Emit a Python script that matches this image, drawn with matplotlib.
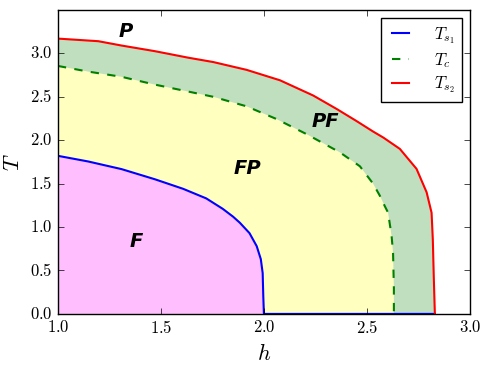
import numpy as np
import matplotlib
matplotlib.use('Agg')
import matplotlib.pyplot as plt

plt.style.use('classic')
plt.rcParams['font.family'] = 'serif'
plt.rcParams['font.serif'] = ['cmr10']
plt.rcParams['mathtext.fontset'] = 'cm'
plt.rcParams['axes.formatter.use_mathtext'] = True

# boundaries
h_s1 = [1.0, 1.147, 1.309, 1.471, 1.608, 1.72, 1.80, 1.85, 1.883, 1.93, 1.965, 1.985, 1.994,
        1.997, 2.0, 2.83]
T_s1 = [1.82, 1.755, 1.667, 1.55, 1.44, 1.33, 1.21, 1.12, 1.05, 0.93, 0.78, 0.63, 0.47,
        0.2, 0.0, 0.0]

h_c = [1.0, 1.147, 1.309, 1.471, 1.633, 1.754, 1.916, 2.06, 2.207, 2.369, 2.466, 2.53, 2.563,
       2.587, 2.603, 2.62, 2.627, 2.631, 2.631]
T_c = [2.855, 2.79, 2.73, 2.64, 2.56, 2.50, 2.39, 2.245, 2.07, 1.86, 1.70, 1.50, 1.36,
       1.24, 1.165, 0.895, 0.7, 0.3, 0.0]

h_s2 = [1.0, 1.196, 1.309, 1.471, 1.633, 1.754, 1.916, 2.078, 2.239, 2.353, 2.45, 2.53, 2.58,
        2.66, 2.741, 2.79, 2.814, 2.82, 2.825, 2.83]
T_s2 = [3.17, 3.14, 3.09, 3.025, 2.95, 2.90, 2.81, 2.69, 2.515, 2.36, 2.22, 2.10, 2.03,
        1.90, 1.67, 1.40, 1.165, 0.86, 0.4, 0.0]

labels = ['P', 'PF', 'FP', 'F']
label_h = [1.33, 2.30, 1.92, 1.38]
label_T = [3.25, 2.22, 1.67, 0.83]

fig = plt.figure(figsize=(4.91, 3.68), dpi=100)
ax = fig.add_axes([0.118, 0.147, 0.839, 0.826])

ax.fill(np.r_[h_s2, h_s2[0]], np.r_[T_s2, 0.0], color='green', alpha=0.25, lw=0)
ax.fill(np.r_[h_c, h_c[0]], np.r_[T_c, 0.0], color='#FFFFBF', lw=0)
ax.fill(np.r_[h_s1, h_s1[0]], np.r_[T_s1, 0.0], color='#FFBFFF', lw=0)

ax.plot(h_s1, T_s1, 'b-', lw=1.5, label=r'$T_{s_1}$')
ax.plot(h_c, T_c, 'g--', lw=1.5, label=r'$T_c$')
ax.plot(h_s2, T_s2, 'r-', lw=1.5, label=r'$T_{s_2}$')

for s, x, y in zip(labels, label_h, label_T):
    ax.text(x, y, s, family='DejaVu Sans', weight='bold', style='italic',
            fontsize=14, ha='center', va='center')

ax.set_xlim(1.0, 3.0)
ax.set_ylim(0.0, 3.5)
ax.set_xticks([1.0, 1.5, 2.0, 2.5, 3.0])
ax.set_yticks([0.0, 0.5, 1.0, 1.5, 2.0, 2.5, 3.0])
ax.set_xlabel(r'$h$', fontsize=16)
ax.set_ylabel(r'$T$', fontsize=16)
ax.legend(loc='upper right', fontsize=12, handlelength=1.6, labelspacing=0.3,
          borderpad=0.4, handletextpad=1.2)

fig.savefig('out.png', dpi=100)
